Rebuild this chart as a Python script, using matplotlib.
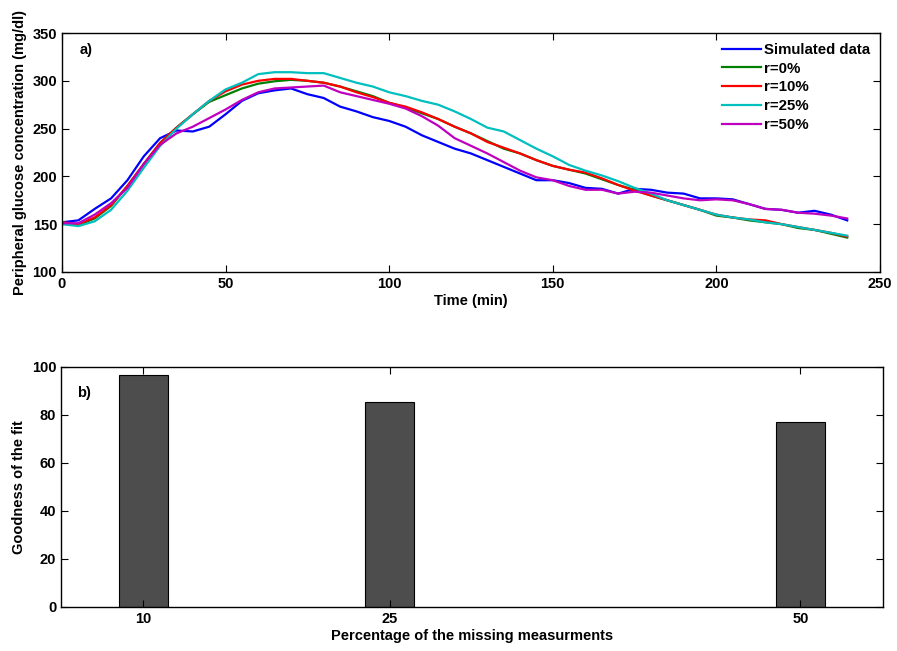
import numpy as np
import matplotlib
matplotlib.use('Agg')
import matplotlib.pyplot as plt

plt.rcParams['font.family'] = ['Liberation Sans', 'DejaVu Sans']
plt.rcParams['font.weight'] = 'bold'

# time grid (min)
time = list(range(0, 245, 5))

# glucose curves (mg/dl)
simulated = [152, 154, 166, 177, 196, 221, 240, 248, 247, 252,
             265, 279, 287, 290, 292, 286, 282, 273, 268, 262,
             258, 252, 243, 236, 229, 224, 217, 210, 203, 196,
             196, 193, 188, 187, 182, 187, 186, 183, 182, 177,
             177, 176, 171, 166, 165, 162, 164, 160, 154]
r0 = [152, 149, 156, 169, 190, 213, 235, 251, 265, 278,
      285, 292, 297, 299.5, 301, 300, 298, 294, 289, 284,
      277, 272, 266, 260, 252, 245, 237, 229, 224, 217,
      211, 207, 203, 197, 191, 186, 180, 175, 170, 165,
      159, 157, 154, 152, 150, 146, 144, 140, 136]
r10 = [152, 150, 157, 170, 190, 213, 235, 251, 265, 279,
       289, 296, 300, 302, 302, 300, 298, 294, 288, 283,
       277, 273, 267, 260, 252, 245, 236, 230, 224, 217,
       211, 207, 204, 198, 191, 185, 180, 175, 170, 165,
       160, 157, 155, 154, 150, 147, 144, 141, 137]
r25 = [150, 148, 153, 165, 185, 209, 232, 250, 265, 279,
       291, 298, 307, 309, 309, 308, 308, 303, 298, 294,
       288, 284, 279, 275, 268, 260, 251, 247, 238, 229,
       221, 212, 206, 201, 195, 188, 182, 175, 170, 165,
       160, 157, 155, 152, 150, 147, 144, 141, 138]
r50 = [151, 151, 160, 172, 188, 213, 233, 245, 252, 261,
       270, 280, 288, 292, 293, 294, 295, 288, 284, 280,
       276, 271, 263, 253, 240, 232, 224, 215, 206, 199,
       196, 190, 186, 186, 182, 184, 183, 180, 177, 175,
       176, 175, 171, 166, 165, 162, 161, 159, 156]

# goodness of fit bars
missing_pct = [10, 25, 50]
goodness = [96.7, 85.4, 77.1]

fig = plt.figure(figsize=(8.97, 6.51), dpi=100)
ax1 = fig.add_axes([0.0691, 0.5822, 0.9119, 0.3671])
ax2 = fig.add_axes([0.068, 0.0676, 0.916, 0.3687])

series = [(simulated, 'Simulated data', (0, 0, 1)),
          (r0, 'r=0%', (0, 0.5, 0)),
          (r10, 'r=10%', (1, 0, 0)),
          (r25, 'r=25%', (0, 0.75, 0.75)),
          (r50, 'r=50%', (0.75, 0, 0.75))]
for vals, lab, col in series:
    ax1.plot(time, vals, color=col, lw=1.6, label=lab)

ax1.set_xlim(0, 250)
ax1.set_ylim(100, 350)
ax1.set_xticks(range(0, 251, 50))
ax1.set_yticks(range(100, 351, 50))
ax1.set_xlabel('Time (min)', fontsize=10.5, fontweight='bold', labelpad=2)
ax1.set_ylabel('Peripheral glucose concentration (mg/dl)', fontsize=10.5, fontweight='bold', labelpad=4)
ax1.text(0.022, 0.93, 'a)', transform=ax1.transAxes, fontsize=10.5, fontweight='bold', va='center')
leg = ax1.legend(loc='upper right', frameon=False, fontsize=10.8, handlelength=2.6,
                 handletextpad=0.2, labelspacing=0.32, borderaxespad=0.25)
for t in leg.get_texts():
    t.set_fontweight('bold')

ax2.bar(missing_pct, goodness, width=3, color='#4d4d4d', edgecolor='black', linewidth=0.8)
ax2.set_xlim(5, 55)
ax2.set_ylim(0, 100)
ax2.set_xticks(missing_pct)
ax2.set_yticks(range(0, 101, 20))
ax2.set_xlabel('Percentage of the missing measurments', fontsize=10.5, fontweight='bold', labelpad=2)
ax2.set_ylabel('Goodness of the fit', fontsize=10.5, fontweight='bold', labelpad=4)
ax2.text(0.02, 0.89, 'b)', transform=ax2.transAxes, fontsize=10.5, fontweight='bold', va='center')

for ax in (ax1, ax2):
    ax.tick_params(direction='in', top=True, right=True, labelsize=10.5, length=5, width=0.8)
    for lbl in ax.get_xticklabels() + ax.get_yticklabels():
        lbl.set_fontweight('bold')
    for sp in ax.spines.values():
        sp.set_linewidth(1.0)

fig.savefig('out.png', dpi=100)
